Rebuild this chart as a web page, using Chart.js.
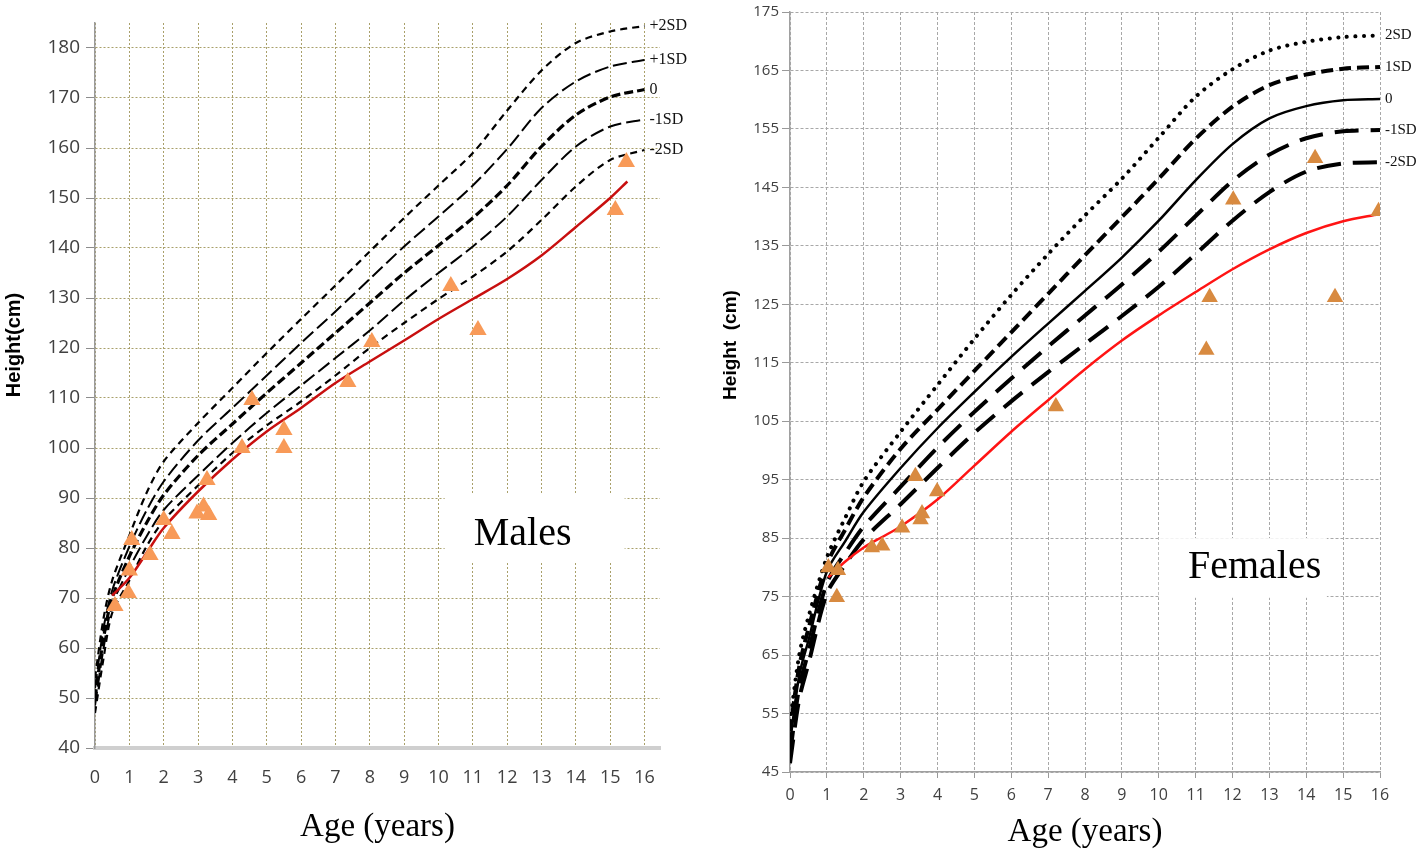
<!DOCTYPE html>
<html>
<head>
<meta charset="utf-8">
<script src="https://cdn.jsdelivr.net/npm/chart.js@4.4.0/dist/chart.umd.min.js"></script>
<style>
html, body { margin: 0; padding: 0; background: #fff; }
#wrap { position: relative; width: 1418px; height: 852px; }
#males { position: absolute; left: 0; top: 0; }
#females { position: absolute; left: 705px; top: 0; }
</style>
</head>
<body>
<div id="wrap">
  <canvas id="males" width="705" height="852"></canvas>
  <canvas id="females" width="713" height="852"></canvas>
</div>
<script>
// ---- Males reference curves (age in years, height in cm) ----
var maleAges = [0, 0.25, 0.5, 1, 1.5, 2, 3, 4, 5, 6, 7, 8, 9, 10, 11, 12, 13, 14, 15, 16];
var malePlus2SD  = [54, 66, 73.5, 82.5, 91, 97.3, 105, 112, 119, 125.8, 132.5, 139.3, 146, 152.5, 159, 167.5, 175.5, 181, 183.3, 184.4];
var malePlus1SD  = [52, 64, 71.5, 80.3, 87.5, 93.3, 101.5, 108, 114.5, 121, 127.3, 133.8, 140.3, 146.3, 152.5, 159.8, 168, 173.3, 176.3, 177.6];
var maleMedian   = [50, 62, 70, 78.3, 85, 90.6, 98.5, 104.8, 111, 117, 123, 129, 135, 140.5, 146, 152.5, 160.3, 166.6, 170.2, 171.7];
var maleMinus1SD = [48.5, 60, 68.5, 76, 82.3, 87.6, 94.5, 101, 107, 112.5, 118, 123.5, 129.5, 135, 140.3, 146.3, 153.6, 160.3, 164.3, 165.7];
var maleMinus2SD = [47, 58, 67, 73.5, 80.3, 85.5, 92.5, 99, 104.5, 109.3, 114.5, 120, 125, 129.8, 134.3, 139.3, 145.6, 152.3, 157.6, 159.6];
var maleLabels = ['+2SD', '+1SD', '0', '-1SD', '-2SD'];

// patients' trend line and single measurements
var maleCaseAges    = [0.5, 1, 1.5, 2, 3, 4, 5, 6, 7, 8, 9, 10, 11, 12, 13, 14, 15, 15.5];
var maleCaseHeights = [70.5, 74, 79, 84, 91.3, 97.7, 103.3, 108, 113, 117.3, 121.5, 125.8, 129.8, 133.8, 138.5, 144.2, 150, 153.3];
var malePointAges    = [0.58, 0.97, 1.07, 1.0, 1.6, 2.0, 2.24, 2.97, 3.16, 3.26, 3.31, 4.28, 4.57, 5.5, 5.5, 7.36, 8.06, 10.36, 11.15, 15.15, 15.47];
var malePointHeights = [68.4, 71, 81.6, 75.5, 78.6, 85.6, 82.8, 86.9, 88.3, 93.6, 86.6, 100, 109.6, 103.6, 100, 113.2, 121.2, 132.4, 123.6, 147.6, 157.2];

// ---- Females reference curves ----
var femaleAges = [0, 0.25, 0.5, 1, 1.5, 2, 3, 4, 5, 6, 7, 8, 9, 10, 11, 12, 13, 14, 15, 16];
var femalePlus2SD  = [53.5, 65, 71.5, 81.7, 88.5, 94.7, 103.2, 111.2, 119.1, 126.6, 133.6, 140.2, 146.5, 153.5, 160.5, 165.2, 168.4, 169.9, 170.7, 171];
var femalePlus1SD  = [52, 63, 69.5, 80.5, 86.5, 92, 100.3, 107, 113.6, 120.2, 126.8, 133.4, 139.9, 146.5, 153.3, 158.8, 162.5, 164.3, 165.3, 165.6];
var femaleMedian   = [50, 61.5, 67.5, 79.3, 84.5, 89.5, 97, 103.8, 110, 116, 121.7, 127.3, 133, 139.3, 146.2, 152.4, 156.8, 158.9, 159.9, 160.1];
var femaleMinus1SD = [48, 59.5, 65.5, 77.3, 82.5, 87, 93.8, 100.5, 106.6, 112.3, 117.8, 123.1, 128.4, 134, 140.1, 146.1, 150.6, 153.4, 154.6, 154.8];
var femaleMinus2SD = [46.5, 57.5, 63.5, 75.5, 80.5, 84.8, 90.8, 97, 103, 108.4, 113.4, 118.2, 123, 128, 133.6, 139.3, 144.2, 147.7, 149.1, 149.3];
var femaleLabels = ['2SD', '1SD', '0', '-1SD', '-2SD'];

var femaleCaseAges    = [1.04, 1.5, 2, 2.5, 3, 4, 5, 6, 7, 8, 9, 10, 11, 12, 13, 14, 15, 15.96];
var femaleCaseHeights = [78.3, 81, 83.4, 85.2, 87, 91.6, 97.4, 103.2, 108.6, 113.9, 118.8, 123.1, 127.1, 131, 134.4, 137.2, 139.2, 140.4];
var femalePointAges    = [1.04, 1.3, 1.27, 2.22, 2.5, 3.04, 3.4, 3.54, 3.58, 3.99, 7.21, 11.29, 11.38, 12.02, 14.24, 14.78, 15.96];
var femalePointHeights = [80, 79.5, 74.9, 83.4, 83.7, 86.8, 95.6, 88.2, 89.2, 93, 107.5, 117.2, 126.2, 142.9, 150, 126.2, 140.9];

function xy(xs, ys) {
    return xs.map(function (x, i) { return { x: x, y: ys[i] }; });
}

// white label box, SD labels at curve ends, rotated y title
var extras = {
    id: 'extras',
    beforeDatasetsDraw: function (chart, args, opts) {
        var ctx = chart.ctx, x = chart.scales.x, y = chart.scales.y, b = opts.box;
        var l = x.getPixelForValue(b.x0), r = x.getPixelForValue(b.x1);
        var t = y.getPixelForValue(b.y0), bt = y.getPixelForValue(b.y1);
        ctx.save();
        ctx.fillStyle = '#fff';
        ctx.fillRect(l, t, r - l, bt - t);
        ctx.font = b.font;
        ctx.fillStyle = '#000';
        ctx.textAlign = 'center';
        ctx.textBaseline = 'middle';
        ctx.fillText(b.text, x.getPixelForValue(b.tx), y.getPixelForValue(b.ty));
        ctx.restore();
    },
    afterDatasetsDraw: function (chart, args, opts) {
        var ctx = chart.ctx;
        ctx.save();
        ctx.font = opts.sdFont;
        ctx.fillStyle = '#111';
        ctx.textAlign = 'left';
        ctx.textBaseline = 'middle';
        chart.data.datasets.forEach(function (ds, i) {
            if (!ds.sdLabel) return;
            var pts = chart.getDatasetMeta(i).data;
            var last = pts[pts.length - 1];
            ctx.fillText(ds.sdLabel, last.x + opts.sdGap, last.y);
        });
        ctx.font = opts.yTitle.font;
        ctx.textAlign = 'center';
        ctx.fillStyle = '#000';
        ctx.translate(opts.yTitle.x, opts.yTitle.y);
        ctx.rotate(-Math.PI / 2);
        ctx.fillText(opts.yTitle.text, 0, 0);
        ctx.restore();
    }
};

function curve(label, ages, heights, dash, width, extra) {
    var ds = {
        sdLabel: label,
        data: xy(ages, heights),
        showLine: true,
        borderColor: '#000',
        borderWidth: width,
        borderDash: dash,
        pointRadius: 0,
        tension: 0.3
    };
    return Object.assign(ds, extra || {});
}

// ---------------- Males ----------------
new Chart('males', {
    type: 'scatter',
    data: {
        datasets: [
            {
                data: xy(malePointAges, malePointHeights),
                pointStyle: 'triangle',
                pointRadius: 10,
                pointBackgroundColor: '#f89a58',
                pointBorderWidth: 0
            },
            {
                data: xy(maleCaseAges, maleCaseHeights),
                showLine: true,
                borderColor: '#c80f0f',
                borderWidth: 2.5,
                pointRadius: 0,
                tension: 0.3
            },
            curve(maleLabels[0], maleAges, malePlus2SD, [7, 5], 2.2),
            curve(maleLabels[1], maleAges, malePlus1SD, [14, 5], 2),
            curve(maleLabels[2], maleAges, maleMedian, [9, 4], 3.2),
            curve(maleLabels[3], maleAges, maleMinus1SD, [14, 5], 2),
            curve(maleLabels[4], maleAges, maleMinus2SD, [7, 5], 2.2)
        ]
    },
    options: {
        responsive: false,
        animation: false,
        layout: { padding: { left: 0, top: 23, right: 45, bottom: 0 } },
        plugins: {
            legend: { display: false },
            tooltip: { enabled: false },
            extras: {
                box: { x0: 10.18, x1: 15.42, y0: 90.6, y1: 77.2, tx: 12.45, ty: 82.8, text: 'Males', font: '40px "Liberation Serif"' },
                sdFont: '16px "Liberation Serif"',
                sdGap: 5,
                yTitle: { text: 'Height(cm)', x: 14, y: 345, font: 'bold 20px "Liberation Sans"' }
            }
        },
        scales: {
            x: {
                type: 'linear',
                min: 0,
                max: 16.45,
                afterFit: function (s) { s.height = 104; },
                ticks: { stepSize: 1, includeBounds: false, autoSkip: false, maxRotation: 0, padding: 19, color: '#404040', font: { family: 'Open Sans', size: 18 } },
                grid: { color: '#a9a06a', lineWidth: 1, drawTicks: false },
                border: { color: '#cfcfcf', width: 4, dash: [2, 2] },
                title: { display: true, text: 'Age (years)', color: '#000', font: { family: 'Liberation Serif', size: 33 }, padding: { top: 0, bottom: 5 } }
            },
            y: {
                min: 40,
                max: 185,
                afterFit: function (s) { s.width = 95; },
                ticks: { stepSize: 10, includeBounds: false, padding: 6, color: '#404040', font: { family: 'Open Sans', size: 19 } },
                grid: { color: '#a9a06a', lineWidth: 1, tickLength: 9, tickColor: '#8c8c8c', tickWidth: 1, tickBorderDash: [] },
                border: { color: '#9a9a9a', width: 1.5, dash: [2, 2] }
            }
        }
    },
    plugins: [extras]
});

// ---------------- Females ----------------
new Chart('females', {
    type: 'scatter',
    data: {
        datasets: [
            {
                data: xy(femalePointAges, femalePointHeights),
                pointStyle: 'triangle',
                pointRadius: 9.5,
                pointBackgroundColor: '#d88a40',
                pointBorderWidth: 0
            },
            {
                data: xy(femaleCaseAges, femaleCaseHeights),
                showLine: true,
                borderColor: '#ff1414',
                borderWidth: 2.5,
                pointRadius: 0,
                tension: 0.3
            },
            curve(femaleLabels[0], femaleAges, femalePlus2SD, [0.1, 8.5], 4, { borderCapStyle: 'round' }),
            curve(femaleLabels[1], femaleAges, femalePlus1SD, [12, 6], 4),
            curve(femaleLabels[2], femaleAges, femaleMedian, [], 2.5),
            curve(femaleLabels[3], femaleAges, femaleMinus1SD, [24, 12], 4),
            curve(femaleLabels[4], femaleAges, femaleMinus2SD, [24, 12], 4)
        ]
    },
    options: {
        responsive: false,
        animation: false,
        layout: { padding: { left: 0, top: 8, right: 38, bottom: 0 } },
        plugins: {
            legend: { display: false },
            tooltip: { enabled: false },
            extras: {
                box: { x0: 10.0, x1: 14.56, y0: 85.0, y1: 74.8, tx: 12.6, ty: 80.0, text: 'Females', font: '40px "Liberation Serif"' },
                sdFont: '15px "Liberation Serif"',
                sdGap: 5,
                yTitle: { text: 'Height  (cm)', x: 26, y: 345, font: 'bold 19px "Liberation Sans"' }
            }
        },
        scales: {
            x: {
                type: 'linear',
                min: 0,
                max: 16,
                afterFit: function (s) { s.height = 80; },
                ticks: { stepSize: 1, autoSkip: false, maxRotation: 0, padding: 8, color: '#404040', font: { family: 'Open Sans', size: 16 } },
                grid: { color: '#a8a8a8', lineWidth: 1, tickLength: 6, tickColor: '#999', tickBorderDash: [] },
                border: { color: '#a0a0a0', width: 1.5, dash: [3, 2] },
                title: { display: true, text: 'Age (years)', color: '#000', font: { family: 'Liberation Serif', size: 33 }, padding: { top: 0, bottom: 0 } }
            },
            y: {
                min: 45,
                max: 175,
                afterFit: function (s) { s.width = 85; },
                ticks: { stepSize: 10, padding: 3, color: '#404040', font: { family: 'Open Sans', size: 15 } },
                grid: { color: '#a8a8a8', lineWidth: 1, tickLength: 8, tickColor: '#999', tickBorderDash: [] },
                border: { color: '#a0a0a0', width: 1.5, dash: [3, 2] }
            }
        }
    },
    plugins: [extras]
});
</script>
</body>
</html>
